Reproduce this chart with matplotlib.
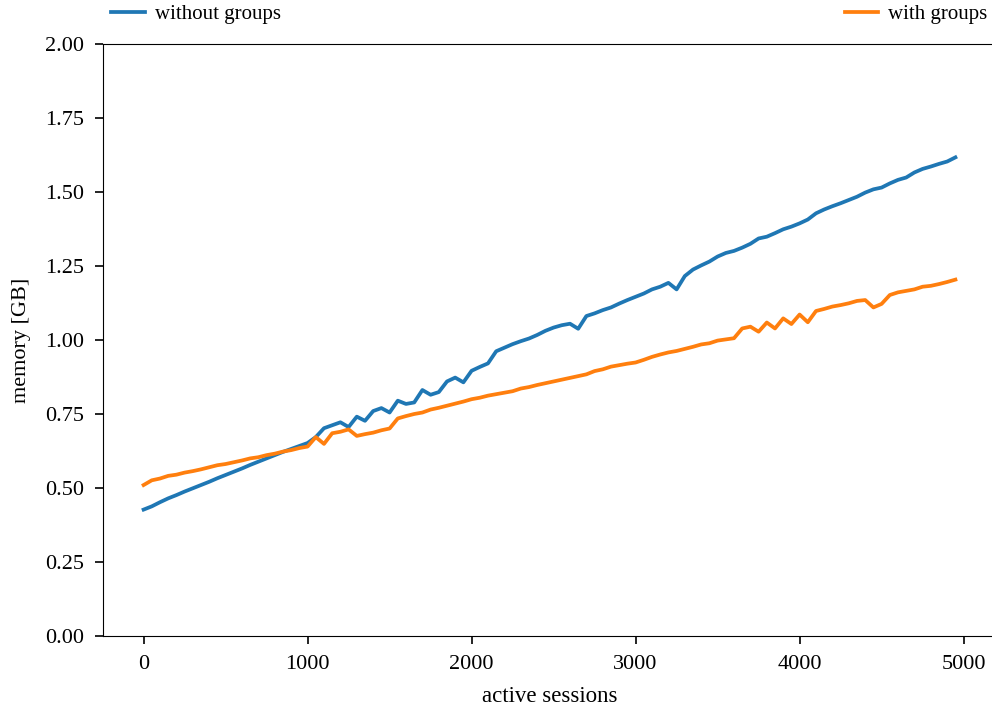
import matplotlib
matplotlib.use("Agg")
import matplotlib.pyplot as plt
import numpy as np

sessions = list(range(0, 5000, 50))

without_groups = [
    0.427, 0.438, 0.452, 0.465, 0.476, 0.488, 0.499, 0.510, 0.521, 0.533,
    0.544, 0.555, 0.566, 0.578, 0.589, 0.600, 0.611, 0.622, 0.632, 0.642,
    0.652, 0.672, 0.702, 0.712, 0.722, 0.706, 0.741, 0.727, 0.760, 0.770,
    0.755, 0.795, 0.784, 0.789, 0.831, 0.815, 0.824, 0.860, 0.873, 0.857,
    0.896, 0.909, 0.921, 0.962, 0.974, 0.986, 0.996, 1.005, 1.017, 1.031,
    1.042, 1.050, 1.055, 1.038, 1.081, 1.090, 1.101, 1.110, 1.123, 1.135,
    1.146, 1.157, 1.171, 1.180, 1.193, 1.171, 1.216, 1.238, 1.252, 1.265,
    1.282, 1.294, 1.301, 1.312, 1.325, 1.343, 1.349, 1.361, 1.374, 1.383,
    1.394, 1.407, 1.428, 1.441, 1.452, 1.462, 1.473, 1.484, 1.498, 1.509,
    1.515, 1.529, 1.541, 1.549, 1.566, 1.578, 1.586, 1.595, 1.603, 1.617,
]

with_groups = [
    0.510, 0.526, 0.532, 0.541, 0.545, 0.552, 0.557, 0.563, 0.570, 0.577,
    0.581, 0.587, 0.593, 0.600, 0.604, 0.611, 0.616, 0.623, 0.628, 0.635,
    0.640, 0.672, 0.649, 0.685, 0.690, 0.698, 0.676, 0.682, 0.687, 0.695,
    0.701, 0.735, 0.743, 0.750, 0.755, 0.765, 0.771, 0.778, 0.785, 0.792,
    0.800, 0.805, 0.812, 0.817, 0.822, 0.827, 0.836, 0.841, 0.848, 0.854,
    0.860, 0.866, 0.872, 0.878, 0.884, 0.895, 0.901, 0.910, 0.915, 0.920,
    0.924, 0.933, 0.943, 0.951, 0.958, 0.963, 0.970, 0.977, 0.985, 0.989,
    0.998, 1.002, 1.006, 1.039, 1.045, 1.028, 1.059, 1.039, 1.073, 1.054,
    1.086, 1.060, 1.098, 1.105, 1.113, 1.118, 1.124, 1.132, 1.135, 1.110,
    1.122, 1.152, 1.161, 1.166, 1.171, 1.180, 1.183, 1.189, 1.196, 1.204,
]

labels = ["without groups", "with groups"]
colors = ["#1f77b4", "#ff7f0e"]
yticks = [0.0, 0.25, 0.5, 0.75, 1.0, 1.25, 1.5, 1.75, 2.0]
xticks = [0, 1000, 2000, 3000, 4000, 5000]

plt.rcParams["font.family"] = ["Liberation Serif", "DejaVu Serif"]
plt.rcParams["font.size"] = 15

fig = plt.figure(figsize=(9.92, 7.08), dpi=100)
ax = fig.add_axes([103 / 992, 72 / 708, 893 / 992, 592 / 708])

ax.plot(sessions, without_groups, color=colors[0], lw=2.7, label=labels[0])
ax.plot(sessions, with_groups, color=colors[1], lw=2.7, label=labels[1])

ax.set_ylim(0, 2.0)
ax.set_yticks(yticks)
ax.set_yticklabels([f"{v:.2f}" for v in yticks])
ax.set_xticks(xticks)
ax.set_xlabel("active sessions", fontsize=16.5, labelpad=8)
ax.set_ylabel("memory [GB]", fontsize=16, labelpad=10)
ax.tick_params(axis="x", direction="out", length=5.5, width=1.2, pad=8.5, labelsize=16)
ax.tick_params(axis="y", direction="out", length=5.5, width=1.2, pad=8, labelsize=16)

ax.legend(bbox_to_anchor=(0, 1.02, 1, 0.102), loc="lower left", mode="expand",
          ncol=2, frameon=False, borderaxespad=0.0, handlelength=1.6,
          handletextpad=0.5, fontsize=15)

fig.savefig("out.png", dpi=100)
